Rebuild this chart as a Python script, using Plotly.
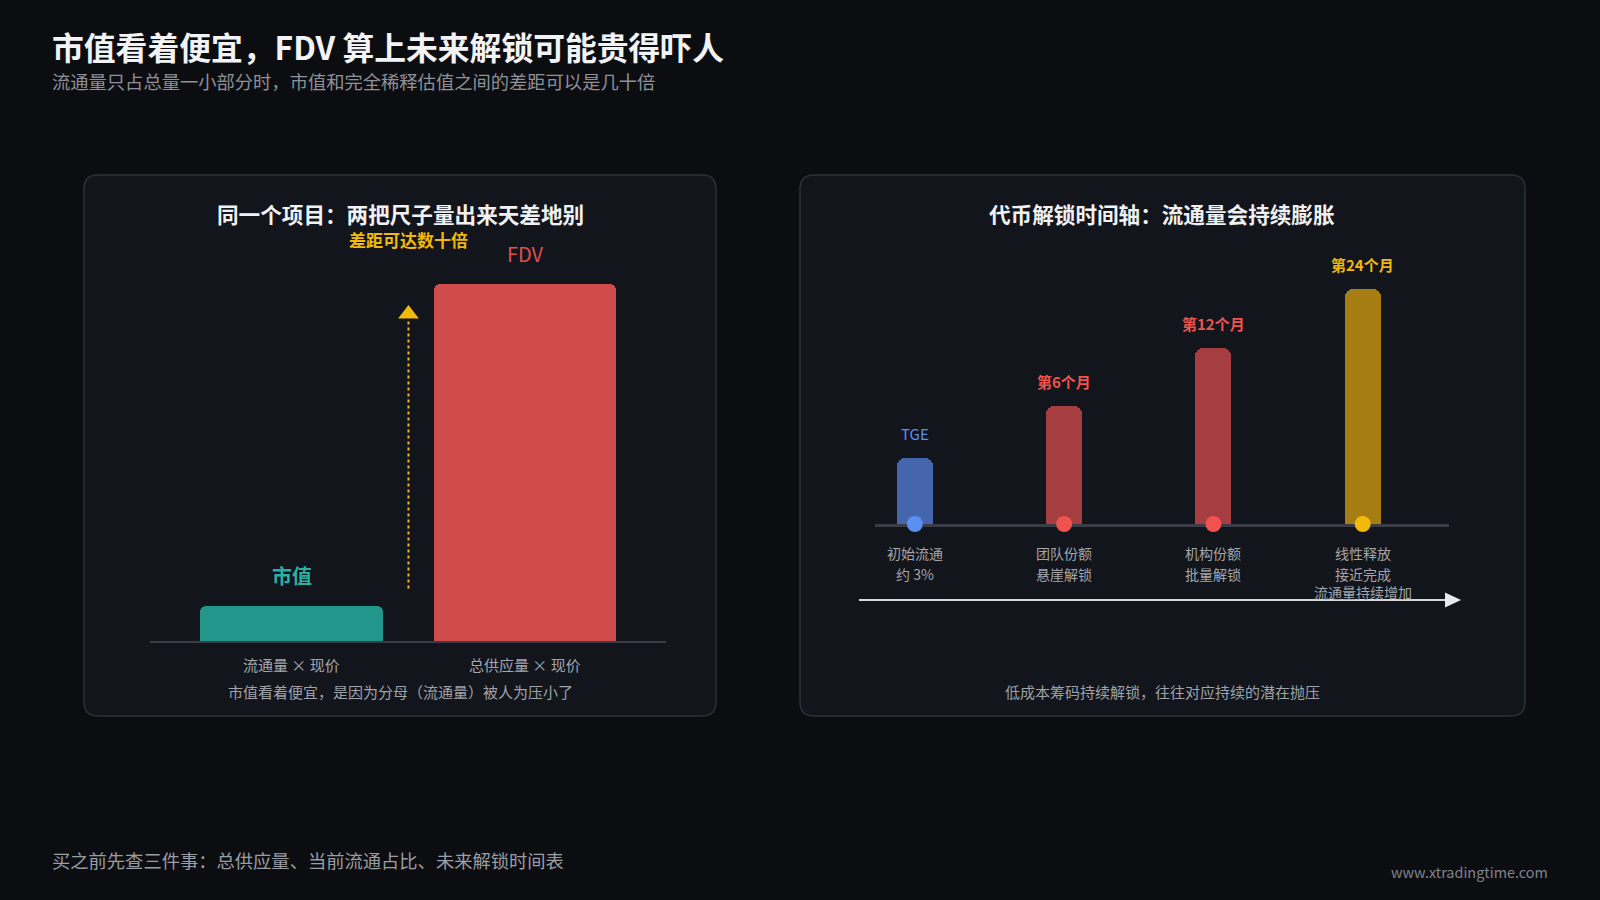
import plotly.graph_objects as go

W, H = 1600, 900
BG = "#0c0d11"
PANEL = "#12151b"
BORDER = "#2d3038"
FONT = "Noto Sans CJK SC, Noto Sans, sans-serif"

# ---------------- data ----------------
val_categories = ["流通量 × 现价", "总供应量 × 现价"]
val_names = ["市值", "FDV"]
val_values = [1.0, 10.2]

stages = ["TGE", "第6个月", "第12个月", "第24个月"]
circ_index = [28, 50, 75, 100]
stage_line1 = ["初始流通", "团队份额", "机构份额", "线性释放"]
stage_line2 = ["约 3%", "悬崖解锁", "批量解锁", "接近完成"]
stage_line3 = ["", "", "", "流通量持续增加"]

# ---------------- styles ----------------
val_bar_colors = ["#22968a", "#d04b4b"]
val_label_colors = ["#2bb0a2", "#e0504e"]
stage_bar_colors = ["#4566ad", "#a63e41", "#a63e41", "#a67d12"]
stage_dot_colors = ["#5b8ff0", "#ef5350", "#ef5350", "#f0b90b"]
stage_label_colors = ["#5b8ff0", "#ef5350", "#ef5350", "#f0b90b"]
YELLOW = "#f0b90b"
GRAY = "#a3a6ad"


def fx(x):
    return x / W


def fy(y):
    return 1 - y / H


fig = go.Figure()

# left panel bars
fig.add_trace(go.Bar(
    x=list(range(len(val_values))), y=val_values, width=0.785,
    marker=dict(color=val_bar_colors, cornerradius=6, line=dict(width=0)),
    xaxis="x", yaxis="y", hoverinfo="skip", showlegend=False,
))
# dotted arrow from market cap to FDV
arrow_x = (len(val_values) - 1) / 2
fig.add_trace(go.Scatter(
    x=[arrow_x, arrow_x], y=[val_values[0] * 1.5, val_values[1] * 0.9],
    mode="lines", line=dict(color=YELLOW, width=2, dash="dot"),
    xaxis="x", yaxis="y", hoverinfo="skip", showlegend=False, cliponaxis=False,
))
fig.add_trace(go.Scatter(
    x=[arrow_x], y=[val_values[1] * 0.915],
    mode="markers", marker=dict(symbol="triangle-up", size=18, color=YELLOW, line=dict(width=0)),
    xaxis="x", yaxis="y", hoverinfo="skip", showlegend=False, cliponaxis=False,
))

# right panel bars
sx = list(range(len(stages)))
fig.add_trace(go.Bar(
    x=sx, y=circ_index, width=0.241,
    marker=dict(color=stage_bar_colors, cornerradius=8, line=dict(width=0)),
    xaxis="x2", yaxis="y2", hoverinfo="skip", showlegend=False,
))
fig.add_trace(go.Scatter(
    x=sx, y=[0] * len(sx), mode="markers",
    marker=dict(size=16, color=stage_dot_colors, line=dict(width=0)),
    xaxis="x2", yaxis="y2", hoverinfo="skip", showlegend=False, cliponaxis=False,
))

shapes = []


def rounded_rect(x0, y0, x1, y1, r):
    rx, ry = r / W, r / H
    X0, X1 = fx(x0), fx(x1)
    Y0, Y1 = fy(y0), fy(y1)  # Y0 top, Y1 bottom
    return (f"M {X0+rx},{Y0} L {X1-rx},{Y0} Q {X1},{Y0} {X1},{Y0-ry} "
            f"L {X1},{Y1+ry} Q {X1},{Y1} {X1-rx},{Y1} L {X0+rx},{Y1} "
            f"Q {X0},{Y1} {X0},{Y1+ry} L {X0},{Y0-ry} Q {X0},{Y0} {X0+rx},{Y0} Z")


for (a, b, c, d) in [(84, 175, 716, 716), (800, 175, 1525, 716)]:
    shapes.append(dict(type="path", xref="paper", yref="paper", path=rounded_rect(a, b, c, d, 14),
                       fillcolor=PANEL, line=dict(color=BORDER, width=1.5), layer="below"))

# timeline arrow
shapes.append(dict(type="line", xref="paper", yref="paper", x0=fx(859), x1=fx(1447), y0=fy(600), y1=fy(600),
                   line=dict(color="#d6d7db", width=2)))
shapes.append(dict(type="path", xref="paper", yref="paper",
                   path=f"M {fx(1445)},{fy(592.5)} L {fx(1461)},{fy(600)} L {fx(1445)},{fy(607.5)} Z",
                   fillcolor="#e8e9ec", line=dict(width=0)))

ann = []


def text(x, y, t, size, color, bold=False, xanchor="center", yanchor="middle", xref="paper", yref="paper", yshift=0):
    ann.append(dict(x=x, y=y, xref=xref, yref=yref, text=f"<b>{t}</b>" if bold else t, showarrow=False,
                    font=dict(size=size, color=color, family=FONT), xanchor=xanchor, yanchor=yanchor,
                    yshift=yshift))


# header
text(fx(50), fy(46), "市值看着便宜，FDV 算上未来解锁可能贵得吓人", 31.8, "#f2f3f5", bold=True, xanchor="left")
text(fx(50), fy(81), "流通量只占总量一小部分时，市值和完全稀释估值之间的差距可以是几十倍", 18.3, "#8e9198", xanchor="left")

# left panel texts
text(fx(400), fy(214), "同一个项目：两把尺子量出来天差地别", 21.6, "#f0f1f3", bold=True)
text(arrow_x, fy(239), "差距可达数十倍", 17, YELLOW, bold=True, xref="x")
for i, (nm, v) in enumerate(zip(val_names, val_values)):
    text(i, v, nm, 20, val_label_colors[i], bold=(i == 0), xref="x", yref="y", yanchor="bottom", yshift=14)
for i, c in enumerate(val_categories):
    text(i, fy(664), c, 15, GRAY, xref="x")
text(fx(400), fy(691), "市值看着便宜，是因为分母（流通量）被人为压小了", 15, "#9fa2a9")

# right panel texts
text(fx(1162), fy(214), "代币解锁时间轴：流通量会持续膨胀", 21.6, "#f0f1f3", bold=True)
for i, s in enumerate(stages):
    text(i, circ_index[i], s, 15, stage_label_colors[i], bold=(i > 0), xref="x2", yref="y2",
         yanchor="bottom", yshift=12)
    text(i, fy(553), stage_line1[i], 14, GRAY, xref="x2")
    text(i, fy(574), stage_line2[i], 14, GRAY, xref="x2")
    if stage_line3[i]:
        text(i, fy(592), stage_line3[i], 14, GRAY, xref="x2")
text(fx(1162), fy(691), "低成本筹码持续解锁，往往对应持续的潜在抛压", 15, "#9fa2a9")

# footer
text(fx(50), fy(860), "买之前先查三件事：总供应量、当前流通占比、未来解锁时间表", 18.3, "#9a9da4", xanchor="left")
text(fx(1550), fy(871), "www.xtradingtime.com", 14.4, "#80838b", xanchor="right")

axis_common = dict(showgrid=False, zeroline=False, showticklabels=False, ticks="", fixedrange=True)

fig.update_layout(
    width=W, height=H,
    margin=dict(l=0, r=0, t=0, b=0),
    paper_bgcolor=BG, plot_bgcolor="rgba(0,0,0,0)",
    font=dict(family=FONT),
    bargap=0,
    xaxis=dict(domain=[fx(150), fx(666)], range=[-0.609, 1.605], showline=True, linecolor="#3a3d45",
               linewidth=2, layer="below traces", **axis_common),
    yaxis=dict(domain=[fy(641), fy(266)], range=[0, 10.7], showline=False, **axis_common),
    xaxis2=dict(domain=[fx(875), fx(1449)], range=[-0.267, 3.578], showline=True, linecolor="#3a3d45",
                linewidth=3, anchor="y2", layer="below traces", **axis_common),
    yaxis2=dict(domain=[fy(524), fy(270)], range=[0, 108], showline=False, anchor="x2", **axis_common),
    shapes=shapes,
    annotations=ann,
)

fig.write_html(
    "out.html",
    config={"displayModeBar": False},
    post_script="document.body.style.margin='0';document.body.style.padding='0';"
                "document.body.style.background='#0c0d11';document.body.style.overflow='hidden';",
)
